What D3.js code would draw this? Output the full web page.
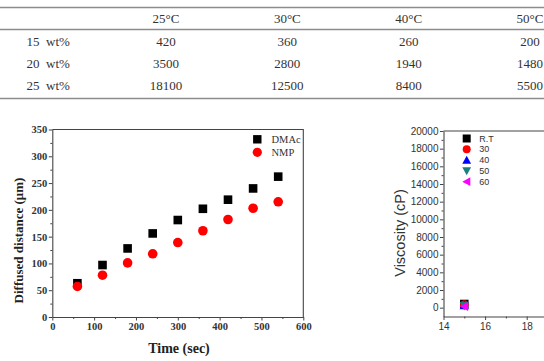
<!DOCTYPE html>
<html><head><meta charset="utf-8">
<script src="https://cdn.jsdelivr.net/npm/d3@7"></script>
<style>
html,body{margin:0;padding:0;background:#fff;}
svg{display:block;}
text{white-space:pre;}
</style></head>
<body>
<svg id="c" width="544" height="361"></svg>
<script>
// ---------- data ----------
const tableHeaders = ["25°C", "30°C", "40°C", "50°C"];
const tableRowLabels = ["15  wt%", "20  wt%", "25  wt%"];
const tableValues = [
  [420, 360, 260, 200],
  [3500, 2800, 1940, 1480],
  [18100, 12500, 8400, 5500]
];

const times = [60, 120, 180, 240, 300, 360, 420, 480, 540];
const dmac = [63, 97, 128, 156, 181, 202, 219, 240, 262];
const nmp  = [57, 78, 101, 118, 139, 161, 182, 203, 215];
const diffSeries = ["DMAc", "NMP"];
const timeTicks = [0, 100, 200, 300, 400, 500, 600];
const distTicks = [0, 50, 100, 150, 200, 250, 300, 350];

const viscSeries = ["R.T", "30", "40", "50", "60"];
const viscConc = [15, 15, 15, 15, 15];
const viscValues = [420, 360, 260, 200, 150];
const viscColors = ["#000000", "#ff0000", "#0000ff", "#1a7f7f", "#ff00ff"];
const viscSymbols = ["square", "circle", "up", "down", "left"];
const viscXTicks = [14, 16, 18];
const viscYTicks = [0, 2000, 4000, 6000, 8000, 10000, 12000, 14000, 16000, 18000, 20000];

const svg = d3.select("#c");
const axisColor = "#444";
const fmt = d3.format("d");

// ---------- table ----------
const colX = d3.scalePoint().domain(tableHeaders).range([166, 530]);
const rowY = d3.scalePoint().domain(tableRowLabels).range([41.5, 85]);
const serif = "'Liberation Serif','Times New Roman',serif";
const tbl = svg.append("g").attr("font-family", serif).attr("font-size", 13).attr("fill", "#333");
[7.5, 29.5, 98.5].forEach(y => tbl.append("line").attr("x1", 0).attr("x2", 544).attr("y1", y).attr("y2", y)
  .attr("stroke", "#8c8c8c").attr("stroke-width", 1.7));
tbl.selectAll("text.h").data(tableHeaders).join("text").attr("class", "h")
  .attr("x", d => colX(d)).attr("y", 18.5).attr("dy", "0.35em").attr("text-anchor", "middle").text(d => d);
tbl.selectAll("text.r").data(tableRowLabels).join("text").attr("class", "r")
  .attr("x", 26.5).attr("y", d => rowY(d)).attr("dy", "0.35em").text(d => d);
tableValues.forEach((row, i) => {
  tbl.selectAll("text.v" + i).data(row).join("text").attr("class", "v" + i)
    .attr("x", (d, j) => colX(tableHeaders[j])).attr("y", rowY(tableRowLabels[i])).attr("dy", "0.35em")
    .attr("text-anchor", "middle").text(d => d);
});

// ---------- left chart ----------
const xL = d3.scaleLinear().domain([0, 600]).range([52.3, 303.3]);
const yL = d3.scaleLinear().domain([0, 350]).range([317, 129.5]);
const gL = svg.append("g");

function styleAxis(g, font, size, weight) {
  g.select(".domain").attr("stroke", axisColor).attr("stroke-width", 1.1);
  g.selectAll(".tick line").attr("stroke", axisColor).attr("stroke-width", 1);
  g.selectAll(".tick text").attr("font-family", font).attr("font-size", size)
    .attr("font-weight", weight).attr("fill", "#333");
}
// minor ticks
gL.append("g").attr("transform", `translate(0,${yL(0)})`)
  .call(d3.axisBottom(xL).tickValues(d3.range(50, 600, 100)).tickSize(2).tickSizeOuter(0).tickFormat(""))
  .call(g => { g.select(".domain").remove(); g.selectAll(".tick line").attr("stroke", axisColor); });
gL.append("g").attr("transform", `translate(${xL(0)},0)`)
  .call(d3.axisLeft(yL).tickValues(d3.range(25, 350, 50)).tickSize(2).tickSizeOuter(0).tickFormat(""))
  .call(g => { g.select(".domain").remove(); g.selectAll(".tick line").attr("stroke", axisColor); });
// major
gL.append("g").attr("transform", `translate(0,${yL(0)})`)
  .call(d3.axisBottom(xL).tickValues(timeTicks).tickFormat(fmt).tickSize(3.5).tickSizeOuter(0).tickPadding(2.5))
  .call(g => styleAxis(g, serif, 10.5, "bold"));
gL.append("g").attr("transform", `translate(${xL(0)},0)`)
  .call(d3.axisLeft(yL).tickValues(distTicks).tickFormat(fmt).tickSize(3.5).tickSizeOuter(0).tickPadding(1.5))
  .call(g => styleAxis(g, serif, 10.5, "bold"));
// frame
gL.append("path").attr("d", `M${xL(0)},${yL(350)}H${xL(600)}V${yL(0)}`)
  .attr("fill", "none").attr("stroke", axisColor).attr("stroke-width", 1.1);
// labels
gL.append("text").attr("x", 179).attr("y", 348).attr("dy", "0.35em").attr("text-anchor", "middle")
  .attr("font-family", serif).attr("font-size", 14).attr("font-weight", "bold").attr("fill", "#222")
  .text("Time (sec)");
gL.append("text").attr("transform", "translate(18.5,240.5) rotate(-90)").attr("dy", "0.35em")
  .attr("text-anchor", "middle").attr("font-family", serif).attr("font-size", 13)
  .attr("font-weight", "bold").attr("fill", "#222").text("Diffused distance (μm)");
// markers
const sq = 8.6;
gL.selectAll("rect.dm").data(dmac).join("rect").attr("class", "dm")
  .attr("x", (d, i) => xL(times[i]) - sq / 2).attr("y", d => yL(d) - sq / 2)
  .attr("width", sq).attr("height", sq).attr("fill", "#000");
gL.selectAll("circle.nm").data(nmp).join("circle").attr("class", "nm")
  .attr("cx", (d, i) => xL(times[i])).attr("cy", d => yL(d)).attr("r", 4.8).attr("fill", "#ff0000");
// legend
const legL = gL.append("g");
legL.append("rect").attr("x", 257.3 - 4.2).attr("y", 139.3 - 4.2).attr("width", 8.4).attr("height", 8.4).attr("fill", "#000");
legL.append("circle").attr("cx", 257.3).attr("cy", 152.3).attr("r", 4.6).attr("fill", "#ff0000");
legL.selectAll("text").data(diffSeries).join("text")
  .attr("x", 271.5).attr("y", (d, i) => 139.3 + i * 13).attr("dy", "0.35em")
  .attr("font-family", serif).attr("font-size", 10.5).attr("fill", "#333").text(d => d);

// ---------- right chart ----------
const sans = "'Liberation Sans',Arial,sans-serif";
const xR = d3.scaleLinear().domain([14, 18.95]).range([443.5, 443.5 + 4.95 * 20.8]);
const yR = d3.scaleLinear().domain([-1000, 20000]).range([316.5, 131]);
const gR = svg.append("g");
gR.append("g").attr("transform", `translate(0,${yR(-1000)})`)
  .call(d3.axisBottom(xR).tickValues([15, 17]).tickSize(2).tickSizeOuter(0).tickFormat(""))
  .call(g => { g.select(".domain").remove(); g.selectAll(".tick line").attr("stroke", axisColor); });
gR.append("g").attr("transform", `translate(${xR(14)},0)`)
  .call(d3.axisLeft(yR).tickValues(d3.range(1000, 20000, 2000)).tickSize(2).tickSizeOuter(0).tickFormat(""))
  .call(g => { g.select(".domain").remove(); g.selectAll(".tick line").attr("stroke", axisColor); });
gR.append("g").attr("transform", `translate(0,${yR(-1000)})`)
  .call(d3.axisBottom(xR).tickValues(viscXTicks).tickFormat(fmt).tickSize(3.5).tickSizeOuter(0).tickPadding(2.5))
  .call(g => styleAxis(g, sans, 10, "normal"));
gR.append("g").attr("transform", `translate(${xR(14)},0)`)
  .call(d3.axisLeft(yR).tickValues(viscYTicks).tickFormat(fmt).tickSize(3.5).tickSizeOuter(0).tickPadding(1.5))
  .call(g => styleAxis(g, sans, 10, "normal"));
gR.append("line").attr("x1", xR(14)).attr("x2", 544).attr("y1", yR(20000)).attr("y2", yR(20000))
  .attr("stroke", axisColor).attr("stroke-width", 1.1);
gR.append("text").attr("transform", "translate(400,233) rotate(-90)").attr("dy", "0.35em")
  .attr("text-anchor", "middle").attr("font-family", sans).attr("font-size", 14.5).attr("fill", "#333")
  .text("Viscosity (cP)");

function symPath(type, cx, cy, s) {
  const h = s / 2;
  if (type === "square") return `M${cx - h},${cy - h}h${s}v${s}h${-s}Z`;
  if (type === "circle") return `M${cx + h},${cy}A${h},${h} 0 1,1 ${cx - h},${cy}A${h},${h} 0 1,1 ${cx + h},${cy}Z`;
  if (type === "up") return `M${cx},${cy - h * 1.1}L${cx + h * 1.1},${cy + h * 0.9}L${cx - h * 1.1},${cy + h * 0.9}Z`;
  if (type === "down") return `M${cx},${cy + h * 1.1}L${cx + h * 1.1},${cy - h * 0.9}L${cx - h * 1.1},${cy - h * 0.9}Z`;
  return `M${cx - h * 1.1},${cy}L${cx + h * 0.9},${cy - h * 1.1}L${cx + h * 0.9},${cy + h * 1.1}Z`;
}
gR.selectAll("path.pt").data(viscValues).join("path").attr("class", "pt")
  .attr("d", (d, i) => symPath(viscSymbols[i], xR(viscConc[i]), yR(d), 8.5))
  .attr("fill", (d, i) => viscColors[i]);
const legR = gR.append("g");
legR.selectAll("path").data(viscSeries).join("path")
  .attr("d", (d, i) => symPath(viscSymbols[i], 466.7, 138.5 + i * 10.8, 8))
  .attr("fill", (d, i) => viscColors[i]);
legR.selectAll("text").data(viscSeries).join("text")
  .attr("x", 479.3).attr("y", (d, i) => 138.5 + i * 10.8).attr("dy", "0.35em")
  .attr("font-family", sans).attr("font-size", 9).attr("fill", "#333").text(d => d);
</script>
</body></html>
